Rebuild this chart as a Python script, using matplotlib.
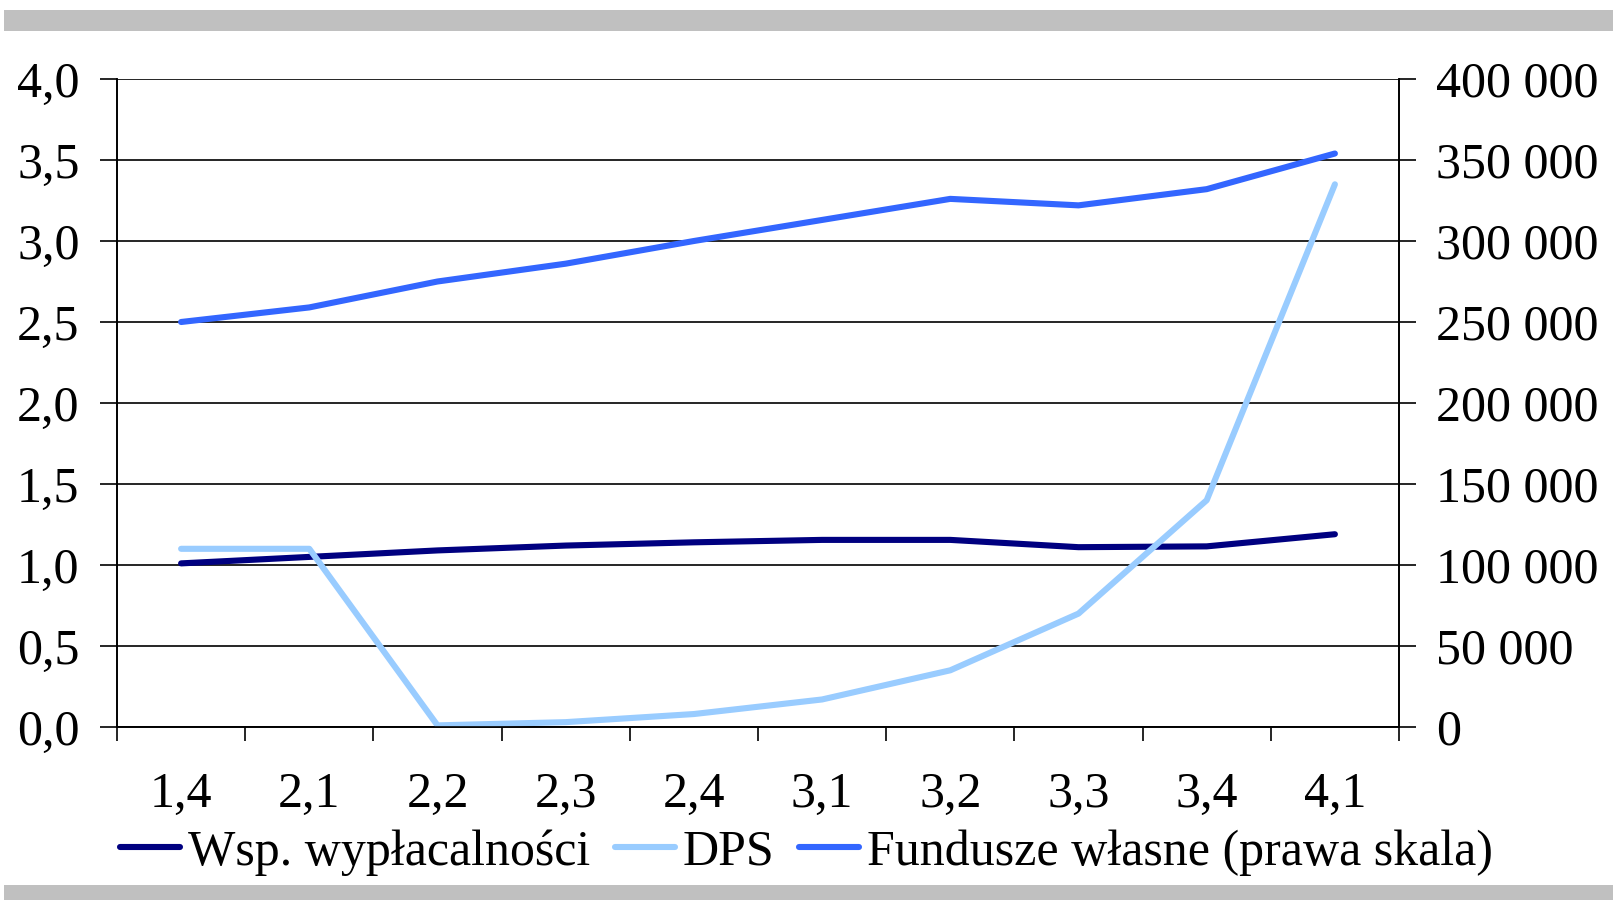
import numpy as np
import matplotlib.pyplot as plt
from matplotlib.patches import Rectangle
from matplotlib.ticker import FuncFormatter

categories = ["1,4", "2,1", "2,2", "2,3", "2,4", "3,1", "3,2", "3,3", "3,4", "4,1"]
wsp = [1.01, 1.05, 1.09, 1.12, 1.14, 1.155, 1.155, 1.11, 1.115, 1.19]
dps = [1.10, 1.10, 0.01, 0.03, 0.08, 0.17, 0.35, 0.70, 1.40, 3.35]
fundusze = [250000, 259000, 275000, 286000, 300000, 313000, 326000, 322000, 332000, 354000]

plt.rcParams['font.family'] = ['Liberation Serif', 'DejaVu Serif']
fs = 36

fig = plt.figure(figsize=(16.13, 9), dpi=100)
fig.patches.append(Rectangle((0.0025, 1 - 31 / 900), 0.9975, 21 / 900, transform=fig.transFigure,
                             facecolor='#c0c0c0', edgecolor='none', zorder=0))
fig.patches.append(Rectangle((0.0025, 0), 0.9975, 15 / 900, transform=fig.transFigure,
                             facecolor='#c0c0c0', edgecolor='none', zorder=0))

ax = fig.add_axes([117 / 1613, (900 - 727) / 900, (1399 - 117) / 1613, (727 - 79) / 900])
ax2 = ax.twinx()

x = np.arange(len(categories))
l1, = ax.plot(x, wsp, color='#000080', lw=4.4, solid_capstyle='round', zorder=3)
l2, = ax.plot(x, dps, color='#99ccff', lw=4.4, solid_capstyle='round', zorder=3)
l3, = ax2.plot(x, fundusze, color='#3366ff', lw=4.4, solid_capstyle='round', zorder=3)

ax.set_xlim(-0.5, len(categories) - 0.5)
ax.set_ylim(0, 4)
ax2.set_ylim(0, 400000)
ax.set_yticks(np.arange(0, 4.01, 0.5))
ax2.set_yticks(np.arange(0, 400001, 50000))
ax.yaxis.set_major_formatter(FuncFormatter(lambda v, p: f"{v:.1f}".replace('.', ',')))
ax2.yaxis.set_major_formatter(FuncFormatter(lambda v, p: f"{int(v):,}".replace(',', ' ')))

ax.set_xticks(np.arange(-0.5, len(categories)), labels=[])
ax.set_xticks(x, labels=categories, minor=True)
ax.tick_params(axis='x', which='major', direction='out', length=10, width=1.2, color='black')
ax.tick_params(axis='x', which='minor', length=0, pad=32, labelsize=fs)
ax.tick_params(axis='y', direction='out', length=12, width=1.2, pad=15, labelsize=fs)
ax2.tick_params(axis='y', direction='out', length=12, width=1.2, pad=15, labelsize=fs)

ax.grid(axis='y', color='black', lw=1.2)
ax.set_axisbelow(True)
for a in (ax, ax2):
    a.spines['top'].set_visible(False)
    for s in ('left', 'right', 'bottom'):
        a.spines[s].set_linewidth(1.2)

fig.legend([l1, l2, l3], ["Wsp. wypłacalności", "DPS", "Fundusze własne (prawa skala)"],
           loc='center', bbox_to_anchor=(0.5, 0.053), ncol=3, frameon=False, fontsize=fs,
           handlelength=1.2, handletextpad=0.15, columnspacing=0.5, borderaxespad=0)

fig.savefig("out.png", dpi=100)
